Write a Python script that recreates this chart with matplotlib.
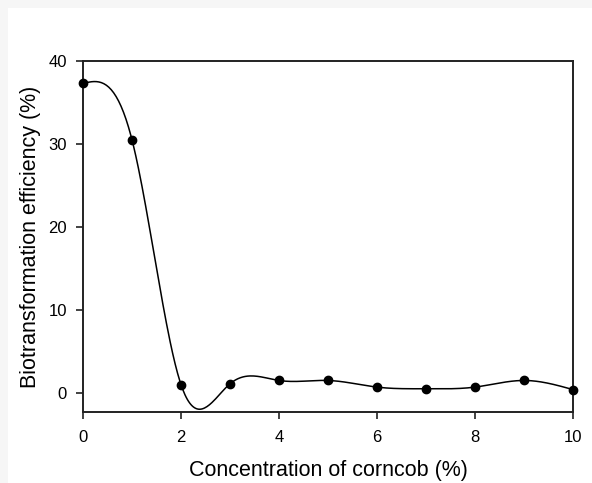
import numpy as np
import matplotlib.pyplot as plt
from matplotlib.patches import Rectangle

# data
conc = [0, 1, 2, 3, 4, 5, 6, 7, 8, 9, 10]
efficiency = [37.3, 30.5, 1.0, 1.1, 1.5, 1.5, 0.7, 0.5, 0.7, 1.5, 0.4]
x_ticks = [0, 2, 4, 6, 8, 10]
y_ticks = [0, 10, 20, 30, 40]


def natural_spline(x, y, xs):
    """Natural cubic spline evaluated at xs (plain numpy)."""
    x = np.asarray(x, float)
    y = np.asarray(y, float)
    n = len(x)
    h = np.diff(x)
    A = np.zeros((n, n))
    b = np.zeros(n)
    A[0, 0] = A[-1, -1] = 1.0
    for i in range(1, n - 1):
        A[i, i - 1] = h[i - 1]
        A[i, i] = 2 * (h[i - 1] + h[i])
        A[i, i + 1] = h[i]
        b[i] = 3 * ((y[i + 1] - y[i]) / h[i] - (y[i] - y[i - 1]) / h[i - 1])
    c = np.linalg.solve(A, b)
    bb = (y[1:] - y[:-1]) / h - h * (2 * c[:-1] + c[1:]) / 3
    d = (c[1:] - c[:-1]) / (3 * h)
    idx = np.clip(np.searchsorted(x, xs) - 1, 0, n - 2)
    dx = xs - x[idx]
    return y[idx] + bb[idx] * dx + c[idx] * dx ** 2 + d[idx] * dx ** 3


plt.rcParams['font.family'] = ['Liberation Sans', 'DejaVu Sans']

fig = plt.figure(figsize=(5.92, 4.83), dpi=100, facecolor='#f6f6f6')
# white sheet, leaving a thin grey strip at the left and top
fig.patches.append(Rectangle((8 / 592, 0), 1, 1 - 8 / 483, transform=fig.transFigure,
                             facecolor='white', edgecolor='none', zorder=-10))
ax = fig.add_axes([83 / 592, 1 - 412 / 483, (573 - 83) / 592, (412 - 61) / 483])

xs = np.linspace(0, 10, 400)
ax.plot(xs, natural_spline(conc, efficiency, xs), color='black', lw=1.1)
ax.plot(conc, efficiency, 'o', color='black', markersize=6, clip_on=False, zorder=3)

ax.set_xlim(0, 10)
ax.set_ylim(-2.3, 40)
ax.set_xticks(x_ticks)
ax.set_yticks(y_ticks)
ax.tick_params(direction='out', length=5, width=1.2, labelsize=12, color='#222222')
ax.tick_params(axis='x', pad=8)
ax.tick_params(axis='y', pad=6.5)
for s in ax.spines.values():
    s.set_linewidth(1.4)
    s.set_color('#222222')

ax.set_xlabel('Concentration of corncob (%)', fontsize=15.5, labelpad=11)
ax.set_ylabel('Biotransformation efficiency (%)', fontsize=15.5, labelpad=5)

plt.savefig('out.png', dpi=100, facecolor=fig.get_facecolor())
